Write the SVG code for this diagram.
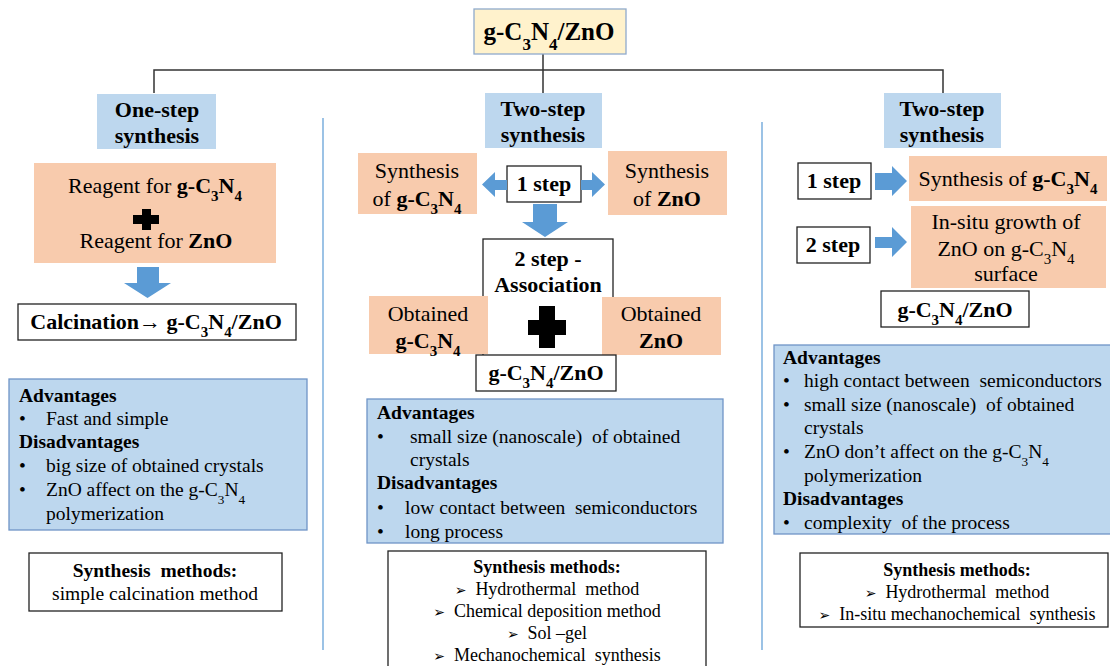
<svg xmlns="http://www.w3.org/2000/svg" width="1110" height="666" viewBox="0 0 1110 666" font-family="Liberation Serif">
<style>
.b{font-weight:bold}
.c{text-anchor:middle}
.s{font-size:68%;baseline-shift:sub}
.f21{font-size:22px}
.f19{font-size:19.5px}
.f18{font-size:18px}
.pink{fill:#F8CBAD}
.blue{fill:#BDD7EE}
.adv{fill:#BDD7EE;stroke:#6F94C7;stroke-width:1.3}
.wb{fill:#fff;stroke:#222;stroke-width:1.3}
.arr{fill:#5B9BD5}
.ln{stroke:#333;stroke-width:1.5;fill:none}
.dv{stroke:#5B9BD5;stroke-width:1.2;fill:none}
.tri{font-size:14px}
</style>
<g font-family="Liberation Serif" fill="#000">
<g id="connectors">
<path class="ln" d="M543 54V93M154 93V70H943V93"/>
<path class="dv" d="M323 118V650M762 122V650"/>
</g>

<g id="root">
<rect x="474" y="9" width="152" height="45" fill="#FFF2CC" stroke="#8FAACC" stroke-width="1.3"/>
<text class="b c" x="549" y="40" font-size="25">g-C<tspan class="s">3</tspan>N<tspan class="s">4</tspan>/ZnO</text>
</g>

<g id="one-step-title">
<rect class="blue" x="97" y="94" width="119" height="55"/>
<text class="b c f21" x="157" y="117">One-step</text>
<text class="b c f21" x="157" y="143">synthesis</text>
</g>
<g id="one-step-reagents">
<rect class="pink" x="34" y="163" width="242" height="100"/>
<text class="c f21" x="155" y="193">Reagent for <tspan class="b">g-C<tspan class="s">3</tspan>N<tspan class="s">4</tspan></tspan></text>
<path d="M133 215H142V209H151V215H159V224H151V230H142V224H133Z" fill="#000"/>
<text class="c f21" x="156" y="248">Reagent for <tspan class="b">ZnO</tspan></text>
</g>
<g id="one-step-arrow">
<path class="arr" d="M137 267H159V283H171L147.5 298L124 283H137Z"/>
</g>
<g id="calcination">
<rect class="wb" x="18" y="304" width="278" height="36"/>
<text class="b c f21" x="156" y="329">Calcination→ g-C<tspan class="s">3</tspan>N<tspan class="s">4</tspan>/ZnO</text>
</g>
<g id="one-step-adv">
<rect class="adv" x="9" y="379" width="298" height="151"/>
<text class="b f19" x="19" y="402">Advantages</text>
<text class="f19" x="19" y="425">•</text><text class="f19" x="46" y="425">Fast and simple</text>
<text class="b f19" x="19" y="448">Disadvantages</text>
<text class="f19" x="19" y="472">•</text><text class="f19" x="46" y="472">big size of obtained crystals</text>
<text class="f19" x="19" y="496">•</text><text class="f19" x="46" y="496">ZnO affect on the g-C<tspan class="s">3</tspan>N<tspan class="s">4</tspan></text>
<text class="f19" x="46" y="520">polymerization</text>
</g>
<g id="one-step-methods">
<rect class="wb" x="29" y="553" width="253" height="58"/>
<text class="b c f19" x="155" y="577" xml:space="preserve">Synthesis  methods:</text>
<text class="c f19" x="155" y="600">simple calcination method</text>
</g>

<g id="two-step-title-a">
<rect class="blue" x="485" y="93" width="117" height="55"/>
<text class="b c f21" x="543" y="116">Two-step</text>
<text class="b c f21" x="543" y="142">synthesis</text>
</g>
<g id="mid-syn-gcn">
<rect class="pink" x="358" y="153" width="119" height="61"/>
<text class="c f21" x="417" y="178">Synthesis</text>
<text class="c f21" x="417" y="206">of <tspan class="b">g-C<tspan class="s">3</tspan>N<tspan class="s">4</tspan></tspan></text>
</g>
<g id="mid-step1">
<rect class="wb" x="507" y="166" width="74" height="36"/>
<text class="b c f21" x="544" y="191">1 step</text>
</g>
<g id="mid-syn-zno">
<rect class="pink" x="608" y="151" width="119" height="64"/>
<text class="c f21" x="667" y="178">Synthesis</text>
<text class="c f21" x="667" y="206">of <tspan class="b">ZnO</tspan></text>
</g>
<g id="mid-arrows">
<path class="arr" d="M507 180H495V172L482 184.5L495 197V190H507Z"/>
<path class="arr" d="M581 180H592V172L605 184.5L592 197V190H581Z"/>
<path class="arr" d="M533 204H557V222H568L545 237L522 222H533Z"/>
</g>
<g id="mid-step2">
<rect class="wb" x="483" y="239" width="130" height="117"/>
<text class="b c f21" x="548" y="266">2 step -</text>
<text class="b c f21" x="548" y="292">Association</text>
</g>
<g id="mid-obt-gcn">
<rect class="pink" x="369" y="296" width="119" height="58"/>
<text class="c f21" x="428" y="321">Obtained</text>
<text class="b c f21" x="428" y="348">g-C<tspan class="s">3</tspan>N<tspan class="s">4</tspan></text>
</g>
<g id="mid-obt-zno">
<rect class="pink" x="602" y="297" width="119" height="58"/>
<text class="c f21" x="661" y="321">Obtained</text>
<text class="b c f21" x="661" y="348">ZnO</text>
</g>
<path d="M528 320H539V306H555V320H566V335H555V348H539V335H528Z" fill="#000"/>
<g id="mid-result">
<rect class="wb" x="476" y="355" width="140" height="36"/>
<text class="b c f21" x="546" y="380">g-C<tspan class="s">3</tspan>N<tspan class="s">4</tspan>/ZnO</text>
</g>
<g id="mid-adv">
<rect class="adv" x="367" y="399" width="356" height="144"/>
<text class="b f19" x="377" y="419">Advantages</text>
<text class="f19" x="377" y="443">•</text><text class="f19" x="410" y="443" xml:space="preserve">small size (nanoscale)  of obtained</text>
<text class="f19" x="410" y="466">crystals</text>
<text class="b f19" x="377" y="489">Disadvantages</text>
<text class="f19" x="377" y="514">•</text><text class="f19" x="405" y="514" xml:space="preserve">low contact between  semiconductors</text>
<text class="f19" x="377" y="538">•</text><text class="f19" x="405" y="538">long process</text>
</g>
<g id="mid-methods">
<rect class="wb" x="388" y="551" width="318" height="130"/>
<text class="b c f18" x="547" y="573">Synthesis methods:</text>
<text class="c f18" x="547" y="595" xml:space="preserve"><tspan class="tri" font-family="DejaVu Sans">➢</tspan>  Hydrothermal  method</text>
<text class="c f18" x="547" y="617" xml:space="preserve"><tspan class="tri" font-family="DejaVu Sans">➢</tspan>  Chemical deposition method</text>
<text class="c f18" x="547" y="639" xml:space="preserve"><tspan class="tri" font-family="DejaVu Sans">➢</tspan>  Sol –gel</text>
<text class="c f18" x="547" y="661" xml:space="preserve"><tspan class="tri" font-family="DejaVu Sans">➢</tspan>  Mechanochemical  synthesis</text>
</g>

<g id="two-step-title-b">
<rect class="blue" x="884" y="93" width="117" height="55"/>
<text class="b c f21" x="942" y="116">Two-step</text>
<text class="b c f21" x="942" y="142">synthesis</text>
</g>
<g id="right-step1">
<rect class="wb" x="798" y="163" width="73" height="36"/>
<text class="b c f21" x="834" y="188">1 step</text>
</g>
<g id="right-syn-gcn">
<rect class="pink" x="909" y="156" width="198" height="45"/>
<text class="c f21" x="1008" y="186">Synthesis of <tspan class="b">g-C<tspan class="s">3</tspan>N<tspan class="s">4</tspan></tspan></text>
</g>
<g id="right-step2">
<rect class="wb" x="797" y="227" width="73" height="36"/>
<text class="b c f21" x="833" y="252">2 step</text>
</g>
<g id="right-arrows">
<path class="arr" d="M875 173H892V166L907 181L892 196V190H875Z"/>
<path class="arr" d="M875 237H892V227L907 242L892 257V248H875Z"/>
</g>
<g id="right-insitu">
<rect class="pink" x="911" y="206" width="195" height="82"/>
<text class="c f21" x="1006" y="229">In-situ growth of</text>
<text class="c f21" x="1006" y="256">ZnO on g-C<tspan class="s">3</tspan>N<tspan class="s">4</tspan></text>
<text class="c f21" x="1006" y="281">surface</text>
</g>
<g id="right-result">
<rect class="wb" x="881" y="291" width="148" height="36"/>
<text class="b c f21" x="955" y="317">g-C<tspan class="s">3</tspan>N<tspan class="s">4</tspan>/ZnO</text>
</g>
<g id="right-adv">
<rect class="adv" x="774" y="345" width="345" height="189"/>
<text class="b f19" x="783" y="364">Advantages</text>
<text class="f19" x="783" y="387">•</text><text class="f19" x="804" y="387" xml:space="preserve">high contact between  semiconductors</text>
<text class="f19" x="783" y="411">•</text><text class="f19" x="804" y="411" xml:space="preserve">small size (nanoscale)  of obtained</text>
<text class="f19" x="804" y="434">crystals</text>
<text class="f19" x="783" y="458">•</text><text class="f19" x="804" y="458">ZnO don’t affect on the g-C<tspan class="s">3</tspan>N<tspan class="s">4</tspan></text>
<text class="f19" x="804" y="482">polymerization</text>
<text class="b f19" x="783" y="505">Disadvantages</text>
<text class="f19" x="783" y="529">•</text><text class="f19" x="804" y="529" xml:space="preserve">complexity  of the process</text>
</g>
<g id="right-methods">
<rect class="wb" x="800" y="553" width="308" height="74"/>
<text class="b c f18" x="957" y="576">Synthesis methods:</text>
<text class="c f18" x="957" y="598" xml:space="preserve"><tspan class="tri" font-family="DejaVu Sans">➢</tspan>  Hydrothermal  method</text>
<text class="c f18" x="957" y="620" xml:space="preserve"><tspan class="tri" font-family="DejaVu Sans">➢</tspan>  In-situ mechanochemical  synthesis</text>
</g>
</g>
</svg>
